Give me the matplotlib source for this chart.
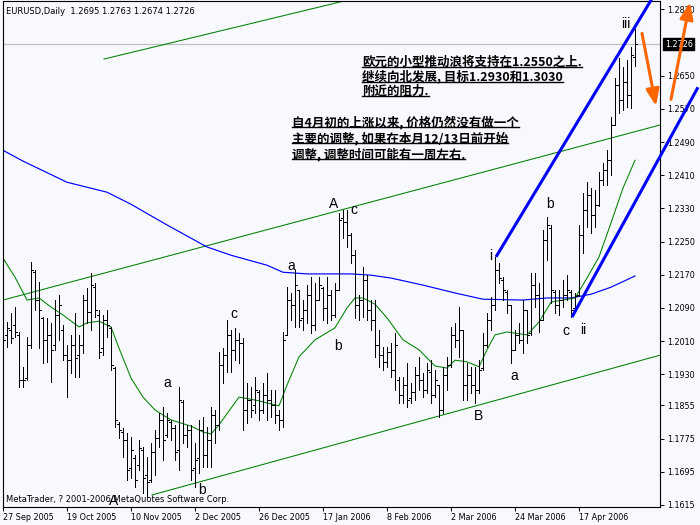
import matplotlib
matplotlib.use('Agg')
import matplotlib.pyplot as plt
from matplotlib.collections import LineCollection
from matplotlib.lines import Line2D
from matplotlib.transforms import IdentityTransform
import numpy as np

# ---- EURUSD daily bars, 27 Sep 2005 .. 5 May 2006 ----
opens = [
    1.2037, 1.2025, 1.2037, 1.2049, 1.2025, 1.1916, 1.1921, 1.2001, 1.2176, 1.2109,
    1.2066, 1.2013, 1.2025, 1.2001, 1.2073, 1.2037, 1.1976, 1.1964, 1.2001, 1.1976,
    1.2001, 1.2109, 1.2080, 1.2140, 1.2073, 1.1993, 1.2061, 1.2042, 1.1945, 1.1810,
    1.1791, 1.1772, 1.1704, 1.1728, 1.1711, 1.1748, 1.1687, 1.1675, 1.1743, 1.1776,
    1.1820, 1.1784, 1.1815, 1.1801, 1.1748, 1.1863, 1.1784, 1.1796, 1.1704, 1.1728,
    1.1796, 1.1736, 1.1772, 1.1832, 1.1808, 1.1952, 1.1976, 1.2025, 1.1989, 1.2013,
    1.2005, 1.1844, 1.1868, 1.1856, 1.1887, 1.1844, 1.1880, 1.1868, 1.1856, 1.1832,
    1.1820, 1.2025, 1.2109, 1.2097, 1.2133, 1.2066, 1.2085, 1.2121, 1.2049, 1.2109,
    1.2138, 1.2090, 1.2121, 1.2073, 1.2133, 1.2307, 1.2297, 1.2266, 1.2218, 1.2097,
    1.2109, 1.2157, 1.2085, 1.2061, 1.2001, 1.1976, 1.1960, 1.1984, 1.1940, 1.1916,
    1.1880, 1.1904, 1.1873, 1.1887, 1.1928, 1.1916, 1.1892, 1.1935, 1.1880, 1.1904,
    1.1844, 1.1928, 1.1952, 1.2025, 1.2013, 1.2037, 1.1904, 1.1928, 1.1904, 1.1892,
    1.1945, 1.2001, 1.2061, 1.2097, 1.2181, 1.2157, 1.2128, 1.2097, 1.1989, 1.2025,
    1.2013, 1.2085, 1.2030, 1.2145, 1.2121, 1.2061, 1.2254, 1.2283, 1.2128, 1.2097,
    1.2109, 1.2121, 1.2128, 1.2090, 1.2121, 1.2266, 1.2326, 1.2362, 1.2314, 1.2338,
    1.2398, 1.2422, 1.2446, 1.2531, 1.2627, 1.2591, 1.2634, 1.2603, 1.2695,
]
highs = [
    1.2085, 1.2056, 1.2078, 1.2092, 1.2032, 1.1948, 1.2020, 1.2201, 1.2181, 1.2152,
    1.2068, 1.2066, 1.2054, 1.2109, 1.2121, 1.2049, 1.2001, 1.2025, 1.2078, 1.2025,
    1.2121, 1.2138, 1.2174, 1.2150, 1.2085, 1.2073, 1.2085, 1.2044, 1.1948, 1.1815,
    1.1801, 1.1789, 1.1779, 1.1735, 1.1772, 1.1755, 1.1731, 1.1764, 1.1796, 1.1837,
    1.1851, 1.1837, 1.1820, 1.1808, 1.1899, 1.1868, 1.1808, 1.1808, 1.1764, 1.1820,
    1.1827, 1.1803, 1.1851, 1.1844, 1.1984, 1.1993, 1.2061, 1.2037, 1.2042, 1.2030,
    1.2018, 1.1909, 1.1899, 1.1923, 1.1892, 1.1909, 1.1933, 1.1892, 1.1892, 1.1844,
    1.2032, 1.2140, 1.2126, 1.2181, 1.2133, 1.2109, 1.2145, 1.2164, 1.2150, 1.2164,
    1.2140, 1.2164, 1.2133, 1.2150, 1.2319, 1.2326, 1.2326, 1.2270, 1.2230, 1.2121,
    1.2189, 1.2169, 1.2109, 1.2109, 1.2037, 1.1996, 1.1996, 1.2005, 1.2030, 1.1923,
    1.1923, 1.1957, 1.1909, 1.1948, 1.1972, 1.1933, 1.1957, 1.1964, 1.1940, 1.1904,
    1.1948, 1.1972, 1.2044, 1.2054, 1.2092, 1.2037, 1.1957, 1.1948, 1.1948, 1.1964,
    1.2030, 1.2078, 1.2116, 1.2213, 1.2198, 1.2164, 1.2133, 1.2097, 1.2037, 1.2054,
    1.2109, 1.2085, 1.2174, 1.2174, 1.2150, 1.2278, 1.2309, 1.2290, 1.2133, 1.2133,
    1.2157, 1.2169, 1.2133, 1.2126, 1.2290, 1.2367, 1.2393, 1.2379, 1.2374, 1.2417,
    1.2439, 1.2470, 1.2550, 1.2644, 1.2692, 1.2671, 1.2687, 1.2719, 1.2763,
]
lows = [
    1.1976, 1.1996, 1.2005, 1.2020, 1.1899, 1.1899, 1.1916, 1.1993, 1.2085, 1.1993,
    1.1957, 1.1960, 1.1911, 1.1989, 1.2013, 1.1964, 1.1875, 1.1933, 1.1923, 1.1923,
    1.1981, 1.2054, 1.2037, 1.2068, 1.1969, 1.1976, 1.2020, 1.1940, 1.1803, 1.1776,
    1.1731, 1.1675, 1.1680, 1.1658, 1.1699, 1.1644, 1.1634, 1.1670, 1.1687, 1.1755,
    1.1723, 1.1779, 1.1772, 1.1723, 1.1699, 1.1764, 1.1755, 1.1675, 1.1658, 1.1692,
    1.1707, 1.1707, 1.1707, 1.1764, 1.1796, 1.1909, 1.1935, 1.1935, 1.1964, 1.1957,
    1.1796, 1.1813, 1.1827, 1.1837, 1.1820, 1.1837, 1.1820, 1.1827, 1.1813, 1.1796,
    1.1803, 1.2025, 1.2061, 1.2044, 1.2044, 1.2037, 1.2054, 1.2030, 1.2037, 1.2109,
    1.2061, 1.2054, 1.2061, 1.2068, 1.2133, 1.2258, 1.2237, 1.2198, 1.2066, 1.2061,
    1.2068, 1.2061, 1.2037, 1.1972, 1.1948, 1.1940, 1.1948, 1.1923, 1.1892, 1.1861,
    1.1861, 1.1851, 1.1861, 1.1868, 1.1892, 1.1875, 1.1885, 1.1861, 1.1875, 1.1827,
    1.1837, 1.1892, 1.1948, 1.1996, 1.1972, 1.1868, 1.1868, 1.1885, 1.1861, 1.1885,
    1.1940, 1.1996, 1.2037, 1.2085, 1.2150, 1.2109, 1.2078, 1.1957, 1.1989, 1.2005,
    1.1981, 1.2005, 1.2025, 1.2092, 1.2032, 1.2061, 1.2205, 1.2102, 1.2078, 1.2073,
    1.2092, 1.2109, 1.2068, 1.2080, 1.2119, 1.2222, 1.2285, 1.2270, 1.2285, 1.2336,
    1.2386, 1.2386, 1.2410, 1.2531, 1.2560, 1.2567, 1.2574, 1.2572, 1.2674,
]
closes = [
    1.2013, 1.2042, 1.2018, 1.2032, 1.1916, 1.1916, 1.2001, 1.2181, 1.2109, 1.2085,
    1.2013, 1.2025, 1.1989, 1.2073, 1.2097, 1.1976, 1.1964, 1.2001, 1.1969, 1.2001,
    1.2109, 1.2080, 1.2145, 1.2085, 1.1984, 1.2061, 1.2049, 1.1952, 1.1820, 1.1796,
    1.1772, 1.1699, 1.1748, 1.1675, 1.1752, 1.1680, 1.1670, 1.1743, 1.1776, 1.1820,
    1.1772, 1.1820, 1.1801, 1.1743, 1.1868, 1.1784, 1.1796, 1.1699, 1.1723, 1.1796,
    1.1736, 1.1772, 1.1832, 1.1808, 1.1952, 1.1976, 1.2025, 1.1989, 1.2013, 1.2005,
    1.1844, 1.1868, 1.1844, 1.1892, 1.1844, 1.1880, 1.1868, 1.1856, 1.1832, 1.1820,
    1.2013, 1.2109, 1.2097, 1.2145, 1.2061, 1.2085, 1.2121, 1.2049, 1.2109, 1.2145,
    1.2090, 1.2121, 1.2073, 1.2133, 1.2302, 1.2297, 1.2266, 1.2218, 1.2097, 1.2109,
    1.2157, 1.2085, 1.2061, 1.2001, 1.1976, 1.1960, 1.1984, 1.1940, 1.2001, 1.1880,
    1.1904, 1.1868, 1.1887, 1.1928, 1.1916, 1.1892, 1.1940, 1.1880, 1.1916, 1.1844,
    1.1928, 1.1952, 1.2025, 1.2013, 1.2037, 1.1904, 1.1928, 1.1904, 1.1892, 1.1940,
    1.2001, 1.2061, 1.2097, 1.2181, 1.2162, 1.2133, 1.2097, 1.1989, 1.2025, 1.2013,
    1.2085, 1.2025, 1.2145, 1.2121, 1.2061, 1.2254, 1.2290, 1.2133, 1.2097, 1.2109,
    1.2121, 1.2133, 1.2085, 1.2119, 1.2266, 1.2326, 1.2362, 1.2314, 1.2338, 1.2398,
    1.2422, 1.2446, 1.2531, 1.2627, 1.2591, 1.2634, 1.2603, 1.2699, 1.2726,
]

# moving averages, sampled at bar indices
blue_ma_idx = [0, 5, 16, 26, 32, 41, 51, 57, 66, 70, 76, 87, 92, 97, 105, 113,
               120, 130, 136, 142, 147, 152, 158]
blue_ma = [1.2470, 1.2444, 1.2393, 1.2369, 1.2340, 1.2290, 1.2237, 1.2217,
           1.2193, 1.2176, 1.2172, 1.2172, 1.2169, 1.2162, 1.2145, 1.2126,
           1.2111, 1.2109, 1.2114, 1.2114, 1.2123, 1.2140, 1.2167]
green_ma_idx = [0, 3, 6, 9, 12, 15, 19, 21, 24, 27, 29, 32, 35, 38, 42, 47, 50,
                52, 54, 59, 63, 69, 71, 74, 78, 83, 86, 88, 90, 93, 96, 100, 104,
                108, 111, 113, 116, 119, 121, 123, 126, 131, 134, 137, 140, 143,
                146, 149, 152, 155, 158]
green_ma = [1.2210, 1.2164, 1.2109, 1.2114, 1.2092, 1.2073, 1.2044, 1.2054,
            1.2058, 1.2044, 1.1993, 1.1921, 1.1875, 1.1844, 1.1820, 1.1805,
            1.1791, 1.1786, 1.1808, 1.1875, 1.1868, 1.1854, 1.1904, 1.1972,
            1.2013, 1.2042, 1.2090, 1.2114, 1.2114, 1.2099, 1.2066, 1.2013,
            1.1989, 1.1950, 1.1945, 1.1964, 1.1960, 1.1948, 1.1989, 1.2025,
            1.2032, 1.2025, 1.2056, 1.2104, 1.2109, 1.2114, 1.2162, 1.2213,
            1.2295, 1.2379, 1.2446]

date_labels = ['27 Sep 2005', '19 Oct 2005', '10 Nov 2005', '2 Dec 2005',
               '26 Dec 2005', '17 Jan 2006', '8 Feb 2006', '2 Mar 2006',
               '24 Mar 2006', '17 Apr 2006']
price_ticks = [1.2810, 1.2650, 1.2570, 1.2490, 1.2410, 1.2330, 1.2250, 1.2170,
               1.2090, 1.2010, 1.1930, 1.1855, 1.1775, 1.1695, 1.1615]
last_price = 1.2726

# elliott wave labels: (text, bar index, price)
wave_labels = [('a', 41, 1.1909), ('b', 49.75, 1.1650), ('c', 57.75, 1.2075),
               ('a', 72, 1.2191), ('b', 83.75, 1.1998), ('A', 82.75, 1.2340),
               ('c', 87.75, 1.2326), ('B', 118.75, 1.1829), ('a', 127.75, 1.1926),
               ('i', 122, 1.2215), ('b', 136.75, 1.2340), ('c', 140.75, 1.2034),
               ('ii', 145, 1.2037), ('iii', 155.75, 1.2774), ('A', 27.75, 1.1625)]

note1 = ['欧元的小型推动浪将支持在1.2550之上.',
         '继续向北发展, 目标1.2930和1.3030',
         '附近的阻力.']
note2 = ['自4月初的上涨以来, 价格仍然没有做一个',
         '主要的调整, 如果在本月12/13日前开始',
         '调整, 调整时间可能有一周左右.']

BG = '#F7F9FF'
W, H = 700, 525

fig = plt.figure(figsize=(7, 5.25), dpi=100, facecolor=BG)
ax = fig.add_axes([3 / W, 18 / H, 657 / W, 506 / H], facecolor=BG)
ax.set_xlim(0, 164.25)
ax.set_ylim(1.1610, 1.2830)

# channel lines
ax.plot([0, 164.25], [1.2109, 1.2531], color='#008000', lw=0.75)
ax.plot([25.25, 90], [1.2690, 1.2841], color='#008000', lw=0.75)
ax.plot([37.25, 164.25], [1.1639, 1.1976], color='#008000', lw=0.75)

# moving averages
ax.plot(blue_ma_idx, blue_ma, color='#0000FF', lw=0.85)
ax.plot(green_ma_idx, green_ma, color='#008000', lw=0.75)

# OHLC bars
segs = []
for i in range(len(closes)):
    segs.append([(i, lows[i]), (i, highs[i])])
    segs.append([(i - 0.45, opens[i]), (i, opens[i])])
    segs.append([(i, closes[i]), (i + 0.45, closes[i])])
ax.add_collection(LineCollection(segs, colors='black', linewidths=0.72,
                                 antialiaseds=False, zorder=3))

# current price line
ax.axhline(last_price, color='#C0C0C0', lw=0.9, zorder=1)

# blue trend lines
ax.plot([123.25, 162.2], [1.2213, 1.2835], color='#0000FF', lw=2.2,
        clip_on=False, zorder=4, solid_capstyle='butt')
ax.plot([142.25, 173.75], [1.2068, 1.2622], color='#0000FF', lw=2.2,
        clip_on=False, zorder=4, solid_capstyle='butt')

# orange arrows
arr = dict(arrowstyle='-|>,head_length=1.0,head_width=0.4', color='#FF6600',
           lw=2.2, mutation_scale=10, shrinkA=0, shrinkB=0)
ax.annotate('', xy=(163.25, 1.2577), xytext=(159.75, 1.2752),
            arrowprops=arr, annotation_clip=False, zorder=5)
ax.annotate('', xy=(171.75, 1.2827), xytext=(167, 1.2593),
            arrowprops=arr, annotation_clip=False, zorder=5)

for txt, xi, yp in wave_labels:
    ax.text(xi, yp, txt, fontsize=10, family='Liberation Sans', ha='center',
            va='center', zorder=6)

# axes styling
for sp in ax.spines.values():
    sp.set_color('black')
    sp.set_linewidth(0.8)
ax.set_xticks(range(0, 16 * len(date_labels), 16))
ax.set_xticklabels(date_labels)
for lbl in ax.get_xticklabels():
    lbl.set_ha('left')
ax.tick_params(axis='x', direction='out', length=3, width=0.7, pad=1.5,
               labelsize=5.8)
ax.yaxis.tick_right()
ax.set_yticks(price_ticks)
ax.set_yticklabels([f'{v:.4f}' for v in price_ticks])
ax.tick_params(axis='y', direction='out', length=3, width=0.7, pad=2.5,
               labelsize=5.8)

ax.annotate(f'{last_price:.4f}', xy=(1, last_price),
            xycoords=('axes fraction', 'data'), xytext=(3.5, 0),
            textcoords='offset points', ha='left', va='center',
            color='white', fontsize=5.8,
            bbox=dict(boxstyle='square,pad=0.2', fc='black', ec='black'),
            annotation_clip=False)

fig.text(6 / W, 1 - 12 / H, 'EURUSD,Daily  1.2695 1.2763 1.2674 1.2726',
         fontsize=6, ha='left', va='center')
fig.text(6 / W, 1 - 500 / H, 'MetaTrader, ? 2001-2006 MetaQuotes Software Corp.',
         fontsize=6, ha='left', va='center', zorder=10)

cn = []
for k, line in enumerate(note1):
    cn.append(fig.text(362 / W, 1 - (62 + 14.5 * k) / H, line, fontsize=9,
                       family=['Noto Sans CJK SC', 'DejaVu Sans'],
                       fontweight='bold', ha='left', va='center'))
for k, line in enumerate(note2):
    cn.append(fig.text(292 / W, 1 - (122 + 16 * k) / H, line, fontsize=9,
                       family=['Noto Sans CJK SC', 'DejaVu Sans'],
                       fontweight='bold', ha='left', va='center'))

# underline the notes
fig.canvas.draw()
r = fig.canvas.get_renderer()
for t in cn:
    bb = t.get_window_extent(r)
    yl = bb.y0 + 1.5
    fig.add_artist(Line2D([bb.x0, bb.x1], [yl, yl], transform=IdentityTransform(),
                          color='black', lw=1.0))

fig.savefig('out.png', dpi=100, facecolor=BG)
